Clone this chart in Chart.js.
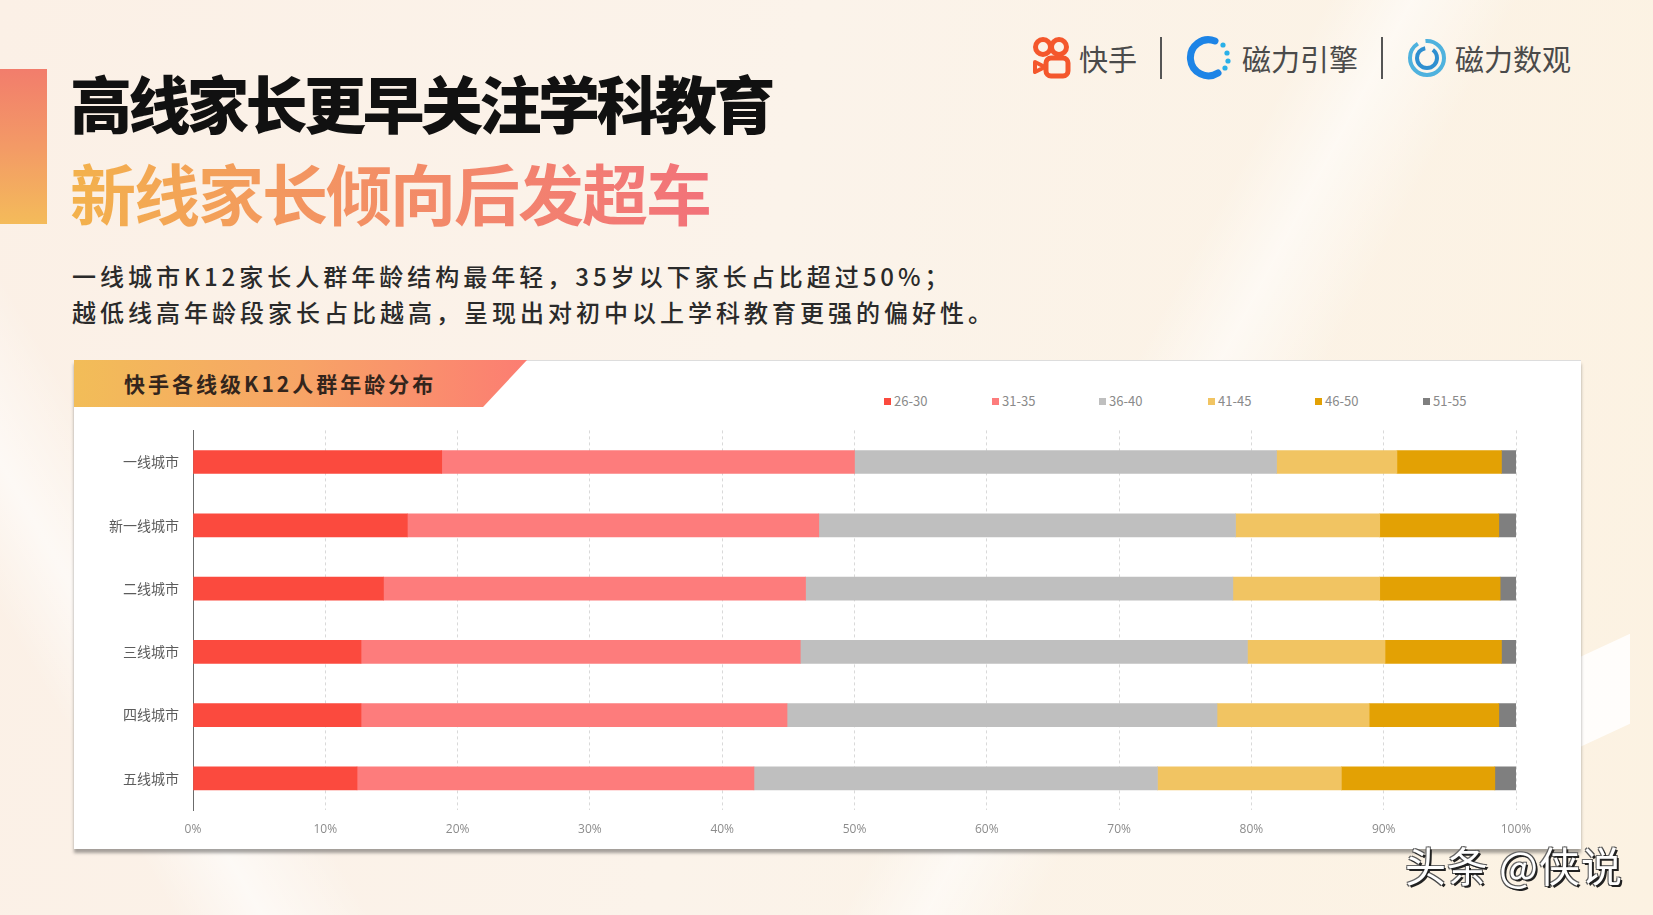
<!DOCTYPE html>
<html lang="zh">
<head>
<meta charset="utf-8">
<title>快手各线级K12人群年龄分布</title>
<script src="https://cdn.jsdelivr.net/npm/chart.js@4.4.1/dist/chart.umd.min.js"></script>
<style>
  * { margin: 0; padding: 0; box-sizing: border-box; }
  html, body { width: 1653px; height: 915px; overflow: hidden; }
  body {
    position: relative;
    font-family: "Noto Sans CJK SC", "Noto Sans", sans-serif;
    background:
      linear-gradient(118deg, rgba(255,255,255,0) 0 62%, rgba(255,255,255,.55) 66%, rgba(255,255,255,0) 71%),
      linear-gradient(60deg, rgba(255,255,255,0) 0 8%, rgba(255,255,255,.6) 12%, rgba(255,255,255,0) 17%),
      linear-gradient(100deg, #fbf0e6 0%, #fbf3ea 45%, #fcf2e2 100%);
  }
  .accent { position: absolute; left: 0; top: 69px; width: 47px; height: 155px;
    background: linear-gradient(180deg, #f27d6c 0%, #f39a66 50%, #f4bb5a 100%); }
  .t1 { position: absolute; left: 70px; top: 58px; font-size: 62px; font-weight: 900; letter-spacing: -3.5px;
    color: #111; line-height: 88px; white-space: nowrap; }
  .t2 { position: absolute; left: 70px; top: 148px; font-size: 66px; font-weight: 600; letter-spacing: -2px;
    line-height: 86px; white-space: nowrap;
    background: linear-gradient(90deg, #f3b24c 0%, #f39660 35%, #f2727a 100%);
    -webkit-background-clip: text; background-clip: text; color: transparent; }
  .sub { position: absolute; left: 72px; font-size: 24px; letter-spacing: 4px; color: #2a2a2a;
    font-weight: 500; white-space: nowrap; line-height: 30px; }
  .logos { position: absolute; top: 36px; left: 1032px; height: 44px; display: flex; align-items: center;
    font-size: 29px; color: #4a4a4a; white-space: nowrap; }
  .logos .sep { width: 2px; height: 42px; background: #555; margin: 0 23px; }
  .logos svg { margin-right: 7px; }
  .deco { position: absolute; left: 1560px; top: 650px; width: 70px; height: 90px; background: #fff;
    transform: skewY(-25deg); opacity: .85; }
  .card { position: absolute; left: 74px; top: 360px; width: 1507px; height: 489px; background: #fff;
    border-top: 1px solid #ddd; box-shadow: 0 4px 3px rgba(60,60,60,.45); }
  .ribbon { position: absolute; left: 74px; top: 360px; width: 453px; height: 47px;
    clip-path: polygon(0 0, 100% 0, 90.3% 100%, 0 100%);
    background: linear-gradient(90deg, #f2bd58 0%, #f7a466 50%, #fc7d72 100%); }
  .ribbon span { position: absolute; left: 50px; top: 9px; font-size: 21px; font-weight: 700; letter-spacing: 3px;
    color: #33251c; line-height: 28px; white-space: nowrap; }
  #legend { position: absolute; top: 392px; left: 884px; height: 18px; }
  #legend div { position: absolute; top: 0; font-size: 13px; color: #8a8a8a; line-height: 18px; white-space: nowrap; }
  #legend i { display: inline-block; width: 7px; height: 7px; margin-right: 3px; vertical-align: 1px; }
  .wrap { position: absolute; left: 74px; top: 408px; width: 1507px; height: 441px; }
  .mark { position: absolute; left: 1405px; top: 838px; font-size: 41px; color: #fff; letter-spacing: 1px;
    white-space: nowrap; line-height: 52px;
    text-shadow: 2px 2px 0 #222, -1px -1px 0 #666, 1px -1px 0 #555, -1px 1px 0 #555; }
</style>
</head>
<body>
<div class="accent"></div>
<div class="t1">高线家长更早关注学科教育</div>
<div class="t2">新线家长倾向后发超车</div>
<div class="sub" style="top:261px">一线城市K12家长人群年龄结构最年轻，35岁以下家长占比超过50%；</div>
<div class="sub" style="top:297px">越低线高年龄段家长占比越高，呈现出对初中以上学科教育更强的偏好性。</div>

<div class="logos">
  <svg width="40" height="44" viewBox="0 0 40 44">
    <circle cx="11" cy="11" r="7.5" fill="none" stroke="#f4572c" stroke-width="5"/>
    <circle cx="27" cy="11" r="7.5" fill="none" stroke="#f4572c" stroke-width="5"/>
    <rect x="14" y="22" width="22" height="18" rx="5" fill="none" stroke="#f4572c" stroke-width="5"/>
    <path d="M3 26 L13 31 L3 36 Z" fill="none" stroke="#f4572c" stroke-width="4" stroke-linejoin="round"/>
  </svg>
  <span>快手</span>
  <div class="sep"></div>
  <svg width="50" height="46" viewBox="0 0 50 46">
    <path d="M30 6 A18 18 0 1 0 33 38" fill="none" stroke="#1d84e6" stroke-width="7" stroke-linecap="round"/>
    <circle cx="38" cy="10" r="2.6" fill="#2ab0e8"/>
    <circle cx="42" cy="18" r="2.6" fill="#2ab0e8"/>
    <circle cx="43" cy="26" r="2.6" fill="#2ab0e8"/>
    <circle cx="40" cy="33" r="2.6" fill="#2ab0e8"/>
  </svg>
  <span>磁力引擎</span>
  <div class="sep"></div>
  <svg width="42" height="42" viewBox="0 0 42 42">
    <circle cx="21" cy="21" r="17" fill="none" stroke="#4fb2de" stroke-width="4" stroke-dasharray="70 8"/>
    <circle cx="21" cy="21" r="10" fill="none" stroke="#2f8fd0" stroke-width="4" stroke-dasharray="45 8"/>
  </svg>
  <span>磁力数观</span>
</div>

<div class="deco"></div>
<div class="card"></div>
<div class="ribbon"><span>快手各线级K12人群年龄分布</span></div>
<div id="legend"></div>
<div class="wrap"><canvas id="chart"></canvas></div>
<div class="mark">头条 @侠说</div>

<script>
const cities = ['一线城市', '新一线城市', '二线城市', '三线城市', '四线城市', '五线城市'];
const ageGroups = ['26-30', '31-35', '36-40', '41-45', '46-50', '51-55'];
const groupColors = ['#fb4a3e', '#fd7c7c', '#bfbfbf', '#f1c462', '#e3a104', '#7f7f7f'];

// share of parents per age group, % (one value per city)
const age26_30 = [18.8, 16.2, 14.4, 12.7, 12.7, 12.4];
const age31_35 = [31.2, 31.1, 31.9, 33.2, 32.2, 30.0];
const age36_40 = [31.9, 31.5, 32.3, 33.8, 32.5, 30.5];
const age41_45 = [9.1, 10.9, 11.1, 10.4, 11.5, 13.9];
const age46_50 = [7.9, 9.0, 9.1, 8.8, 9.8, 11.6];
const age51_55 = [1.1, 1.3, 1.2, 1.1, 1.3, 1.6];
const xTicks = [0, 10, 20, 30, 40, 50, 60, 70, 80, 90, 100];

const series = [age26_30, age31_35, age36_40, age41_45, age46_50, age51_55];

// legend, positioned like the original slide
const legendSlots = [0, 108, 215, 324, 431, 539];
const legendNode = document.getElementById('legend');
legendNode.innerHTML = ageGroups.map((g, i) =>
  `<div style="left:${legendSlots[i]}px"><i style="background:${groupColors[i]}"></i>${g}</div>`).join('');

new Chart(document.getElementById('chart'), {
  type: 'bar',
  data: {
    labels: cities,
    datasets: series.map((vals, i) => ({
      label: ageGroups[i],
      data: vals,
      backgroundColor: groupColors[i],
      borderWidth: 0,
      barThickness: 23,
    })),
  },
  options: {
    indexAxis: 'y',
    responsive: true,
    maintainAspectRatio: false,
    animation: false,
    layout: { padding: { top: 0, right: 65, left: 0, bottom: 0 } },
    plugins: { legend: { display: false }, tooltip: { enabled: false } },
    scales: {
      x: {
        stacked: true,
        min: 0,
        max: 100,
        afterBuildTicks: (s) => { s.ticks = xTicks.map((v) => ({ value: v })); },
        afterFit: (s) => { s.height = 39; },
        grid: { color: '#d9d9d9', lineWidth: 1, drawTicks: false },
        border: { display: false, dash: [3, 3] },
        ticks: {
          padding: 12,
          color: '#8c8c8c',
          font: { family: '"Open Sans", "Noto Sans", sans-serif', size: 12 },
          callback: (v) => v + '%',
        },
      },
      y: {
        stacked: true,
        afterFit: (s) => { s.width = 119; },
        grid: { display: false, drawTicks: false },
        border: { display: true, color: '#6b6b6b', width: 1 },
        ticks: {
          padding: 14,
          color: '#5c5c5c',
          font: { family: '"Noto Sans CJK SC", sans-serif', size: 14 },
        },
      },
    },
  },
});
</script>
</body>
</html>
